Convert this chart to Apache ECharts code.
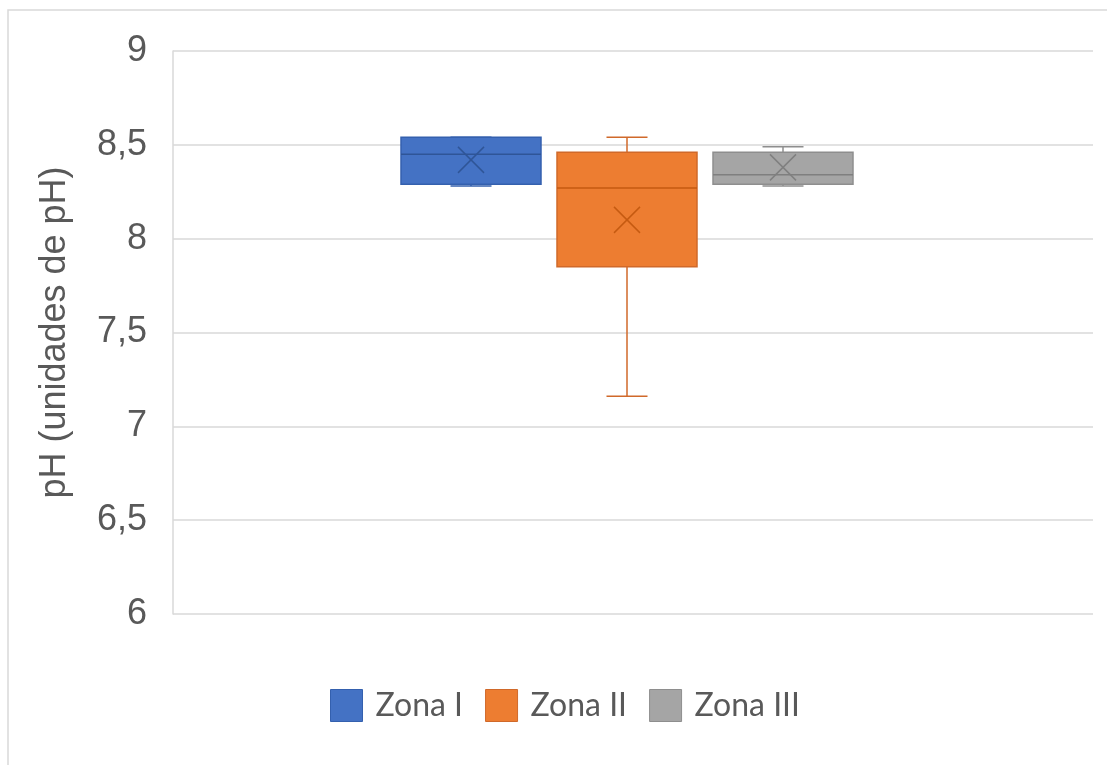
<!DOCTYPE html>
<html>
<head>
<meta charset="utf-8">
<script src="https://cdn.jsdelivr.net/npm/echarts@6/dist/echarts.min.js"></script>
<style>
  html, body { margin: 0; padding: 0; background: #fff; }
  #chart { width: 1107px; height: 765px; }
</style>
</head>
<body>
<div id="chart"></div>
<script>
// pH per zone: [min, Q1, median, Q3, max, mean]
const zones = ['Zona I', 'Zona II', 'Zona III'];
const zonaI = [8.28, 8.29, 8.45, 8.54, 8.54, 8.42];
const zonaII = [7.16, 7.85, 8.27, 8.46, 8.54, 8.10];
const zonaIII = [8.28, 8.29, 8.34, 8.46, 8.49, 8.38];
const yTicks = [6, 6.5, 7, 7.5, 8, 8.5, 9];

const fills = ['#4472C4', '#ED7D31', '#A5A5A5'];
const strokes = ['#3460AE', '#D0692A', '#8E8E8E'];
const markColors = ['#2F5597', '#C55A11', '#7F7F7F'];
const offsets = [-162, -6, 150];   // horizontal placement of each box in the band
const boxW = 140, capW = 41, xSize = 13;

const stats = [zonaI, zonaII, zonaIII];

function makeRender(idx) {
  return function (params, api) {
    const c = api.coord([0, api.value(3)]);
    const cx = c[0] + offsets[idx];
    const y = v => api.coord([0, api.value(v)])[1];
    const yMin = y(1), yQ1 = y(2), yMed = y(3), yQ3 = y(4), yMax = y(5), yMean = y(6);
    const ls = { stroke: strokes[idx], lineWidth: 1.5 };
    const ms = { stroke: markColors[idx], lineWidth: 1.5 };
    return {
      type: 'group',
      children: [
        { type: 'line', shape: { x1: cx, y1: yQ3, x2: cx, y2: yMax }, style: ls },
        { type: 'line', shape: { x1: cx, y1: yQ1, x2: cx, y2: yMin }, style: ls },
        { type: 'line', shape: { x1: cx - capW / 2, y1: yMax, x2: cx + capW / 2, y2: yMax }, style: ls },
        { type: 'line', shape: { x1: cx - capW / 2, y1: yMin, x2: cx + capW / 2, y2: yMin }, style: ls },
        { type: 'rect', shape: { x: cx - boxW / 2, y: yQ3, width: boxW, height: yQ1 - yQ3 },
          style: { fill: fills[idx], stroke: strokes[idx], lineWidth: 1.5 } },
        { type: 'line', shape: { x1: cx - boxW / 2, y1: yMed, x2: cx + boxW / 2, y2: yMed }, style: ms },
        { type: 'line', shape: { x1: cx - xSize, y1: yMean - xSize, x2: cx + xSize, y2: yMean + xSize }, style: ms },
        { type: 'line', shape: { x1: cx - xSize, y1: yMean + xSize, x2: cx + xSize, y2: yMean - xSize }, style: ms }
      ]
    };
  };
}

const series = zones.map((name, i) => ({
  name: name,
  type: 'custom',
  renderItem: makeRender(i),
  itemStyle: { color: fills[i], borderColor: strokes[i], borderWidth: 1 },
  encode: { x: 0, y: [1, 2, 3, 4, 5, 6] },
  data: [[0].concat(stats[i])]
}));

const chart = echarts.init(document.getElementById('chart'), null, { renderer: 'canvas' });
chart.setOption({
  animation: false,
  backgroundColor: '#ffffff',
  graphic: [{
    type: 'rect',
    shape: { x: 8, y: 10, width: 1200, height: 900 },
    style: { fill: 'none', stroke: '#D9D9D9', lineWidth: 1.5 },
    silent: true
  }],
  grid: { left: 173, right: 14, top: 51, bottom: 151 },
  legend: {
    left: 325, top: 684,
    icon: 'rect',
    itemWidth: 32, itemHeight: 32, itemGap: 22,
    textStyle: { fontFamily: 'Lato', fontSize: 32, color: '#595959', padding: [0, 0, 0, 8] },
    data: zones.map((n, i) => ({ name: n, itemStyle: { color: fills[i], borderColor: strokes[i], borderWidth: 1 } }))
  },
  xAxis: {
    type: 'category',
    data: [''],
    axisLine: { show: false },
    axisTick: { show: false },
    axisLabel: { show: false }
  },
  yAxis: {
    type: 'value',
    min: yTicks[0],
    max: yTicks[yTicks.length - 1],
    interval: 0.5,
    name: 'pH (unidades de pH)',
    nameLocation: 'middle',
    nameGap: 100,
    nameTextStyle: { fontFamily: 'Liberation Sans, Arial', fontSize: 36, color: '#595959' },
    axisLine: { show: true, lineStyle: { color: '#D9D9D9', width: 1.5 } },
    axisTick: { show: false },
    axisLabel: {
      margin: 26,
      fontFamily: 'Liberation Sans, Arial',
      fontSize: 36,
      color: '#595959',
      formatter: v => String(v).replace('.', ',')
    },
    splitLine: { lineStyle: { color: '#D9D9D9', width: 1.5 } }
  },
  series: series
});
</script>
</body>
</html>
